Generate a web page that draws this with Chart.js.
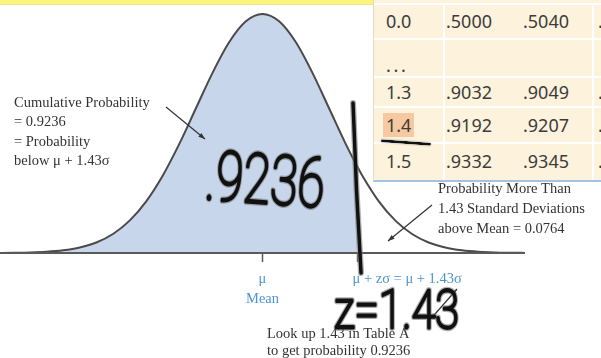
<!DOCTYPE html>
<html>
<head>
<meta charset="utf-8">
<script src="https://cdn.jsdelivr.net/npm/chart.js@4/dist/chart.umd.min.js"></script>
<style>
  html, body { margin: 0; padding: 0; background: #fff; }
  #wrap { position: relative; width: 601px; height: 358px; overflow: hidden; }
  #chart { position: absolute; left: 0; top: 0; }
  #band { position: absolute; left: 0; top: 0; width: 373px; height: 4px; background: #fcf57b; border-bottom: 1px solid #ece39e; }
  #tbl { position: absolute; left: 373px; top: 0; width: 228px; height: 182px; background: #fdf2dc;
         border-left: 1px solid #e2dac8; border-bottom: 2px solid #a3c3e4; box-sizing: border-box; overflow: hidden;
         font-family: "Noto Sans", "Liberation Sans", sans-serif; font-size: 18px; color: #3c3c3c; }
  .hline { position: absolute; left: 0; width: 228px; height: 2px; background: #fff; }
  .vline { position: absolute; top: 4px; width: 2px; height: 176px; background: #fff; }
  .cell { position: absolute; white-space: nowrap; }
  .hl { background: #f8c8a0; padding: 0 3px; margin-left: -3px; }
  #pen { position: absolute; left: 7px; top: 141px; width: 50px; height: 0; border-top: 3px solid #111;
         border-radius: 3px; transform: rotate(4deg); box-shadow: 0 0 1.5px #777; }
</style>
</head>
<body>
<div id="wrap">
  <canvas id="chart" width="601" height="358"></canvas>
  <div id="band"></div>
  <div id="tbl"></div>
</div>
<script>
// Standard normal density, read at these z positions
const zValues = [-4, -3.75, -3.5, -3.25, -3, -2.75, -2.5, -2.25, -2, -1.75, -1.5, -1.25, -1, -0.75, -0.5, -0.25,
                 0, 0.25, 0.5, 0.75, 1, 1.25, 1.43, 1.5, 1.75, 2, 2.25, 2.5, 2.75, 3, 3.25, 3.5, 3.75, 4];
const density = [0.0001, 0.0004, 0.0009, 0.0020, 0.0044, 0.0091, 0.0175, 0.0317, 0.0540, 0.0863, 0.1295, 0.1826, 0.2420, 0.3011, 0.3521, 0.3867,
                 0.3989, 0.3867, 0.3521, 0.3011, 0.2420, 0.1826, 0.1435, 0.1295, 0.0863, 0.0540, 0.0317, 0.0175, 0.0091, 0.0044, 0.0020, 0.0009, 0.0004, 0.0001];
const zCut = 1.43;           // shaded up to mean + 1.43 sd
const cumulative = '0.9236';
const upperTail = '0.0764';

// Excerpt of Table A
const tableRows = ['0.0', '. . .', '1.3', '1.4', '1.5'];
const tableCol1 = ['.5000', '', '.9032', '.9192', '.9332'];
const tableCol2 = ['.5040', '', '.9049', '.9207', '.9345'];
const tableCol3 = ['.5080', '', '.9066', '.9222', '.9357'];
const highlightRow = '1.4';

// Build the table excerpt
(function buildTable() {
  const tbl = document.getElementById('tbl');
  const tops = [4, 39, 77, 107, 143];
  const bottoms = [39, 77, 107, 143, 180];
  tops.forEach(t => { const d = document.createElement('div'); d.className = 'hline'; d.style.top = (t - 1) + 'px'; tbl.appendChild(d); });
  [69, 218].forEach(l => { const d = document.createElement('div'); d.className = 'vline'; d.style.left = l + 'px'; tbl.appendChild(d); });
  const lefts = [12, 72, 149, 224];
  tableRows.forEach((lab, i) => {
    const h = bottoms[i] - tops[i];
    const vals = [lab, tableCol1[i], tableCol2[i], tableCol3[i]];
    vals.forEach((v, c) => {
      if (!v) return;
      const s = document.createElement('div');
      s.className = 'cell';
      s.style.left = lefts[c] + 'px';
      s.style.top = tops[i] + 'px';
      s.style.height = h + 'px';
      s.style.lineHeight = h + 'px';
      if (lab === '. . .') { s.style.lineHeight = (h + 14) + 'px'; s.style.letterSpacing = '-1px'; }
      if (c === 0 && v === highlightRow) {
        const sp = document.createElement('span'); sp.className = 'hl'; sp.textContent = v; s.appendChild(sp);
      } else {
        s.textContent = v;
      }
      tbl.appendChild(s);
    });
  });
  const pen = document.createElement('div'); pen.id = 'pen'; tbl.appendChild(pen);
})();

const curvePts = zValues.map((z, i) => ({ x: z, y: density[i] }));
const shadePts = curvePts.filter(p => p.x <= zCut);

function arrow(ctx, x1, y1, x2, y2, size) {
  ctx.beginPath(); ctx.moveTo(x1, y1); ctx.lineTo(x2, y2); ctx.stroke();
  const a = Math.atan2(y2 - y1, x2 - x1);
  ctx.beginPath();
  ctx.moveTo(x2, y2);
  ctx.lineTo(x2 - size * Math.cos(a - 0.35), y2 - size * Math.sin(a - 0.35));
  ctx.lineTo(x2 - size * Math.cos(a + 0.35), y2 - size * Math.sin(a + 0.35));
  ctx.closePath(); ctx.fill();
}

// marker-style lettering: thin glyphs traced with a round pen
function penText(ctx, text, x, y, size, sx, rot) {
  ctx.save();
  ctx.translate(x, y);
  ctx.rotate(rot);
  ctx.scale(sx, 1);
  ctx.font = '100 ' + size + 'px Roboto, "DejaVu Sans", sans-serif';
  ctx.textAlign = 'left';
  ctx.textBaseline = 'alphabetic';
  ctx.lineJoin = 'round';
  ctx.lineCap = 'round';
  ctx.strokeStyle = 'rgba(120,120,120,0.6)';
  ctx.lineWidth = 5.5;
  ctx.strokeText(text, 0, 0);
  ctx.strokeStyle = '#111';
  ctx.lineWidth = 3;
  ctx.strokeText(text, 0, 0);
  ctx.fillStyle = '#111';
  ctx.fillText(text, 0, 0);
  ctx.restore();
}

const annotations = {
  id: 'annotations',
  afterDatasetsDraw(chart) {
    const ctx = chart.ctx;
    const xs = chart.scales.x, ys = chart.scales.y;
    const y0 = ys.getPixelForValue(0);
    const xm = xs.getPixelForValue(0);
    const xc = xs.getPixelForValue(zCut);
    ctx.save();

    // baseline and ticks
    ctx.strokeStyle = '#5a5a5a';
    ctx.lineWidth = 2;
    ctx.beginPath(); ctx.moveTo(xs.left, y0); ctx.lineTo(xs.right, y0); ctx.stroke();
    ctx.lineWidth = 1.5;
    ctx.beginPath(); ctx.moveTo(xm, y0); ctx.lineTo(xm, y0 + 9); ctx.moveTo(xc, y0); ctx.lineTo(xc, y0 + 9); ctx.stroke();

    // axis labels
    ctx.fillStyle = '#4e94d2';
    ctx.font = '14.5px "Liberation Serif", serif';
    ctx.textBaseline = 'alphabetic';
    ctx.textAlign = 'center';
    ctx.fillText('\u03bc', xm, 283);
    ctx.fillText('Mean', xm, 303);
    ctx.textAlign = 'left';
    ctx.fillText('\u03bc + z\u03c3 = \u03bc + ' + zCut + '\u03c3', xc - 5, 283);

    // explanatory notes
    ctx.fillStyle = '#333';
    ctx.font = '14.5px "Liberation Serif", serif';
    ctx.textBaseline = 'middle';
    const left = ['Cumulative Probability', '= ' + cumulative, '= Probability', 'below \u03bc + ' + zCut + '\u03c3'];
    left.forEach((t, i) => ctx.fillText(t, 14, 103 + i * 19.5));
    const right = ['Probability More Than', zCut + ' Standard Deviations', 'above Mean = ' + upperTail];
    right.forEach((t, i) => ctx.fillText(t, 438, 189 + i * 20));
    ['Look up ' + zCut + ' in Table A', 'to get probability ' + cumulative].forEach((t, i) => ctx.fillText(t, 267, 334 + i * 17));

    // pointers
    ctx.strokeStyle = '#333'; ctx.fillStyle = '#333'; ctx.lineWidth = 1.2;
    arrow(ctx, 166, 107, 205, 139, 7);
    arrow(ctx, 432, 205, 388, 241, 7);
    arrow(ctx, 428, 322, 457, 289, 7);

    // pen marks
    ctx.lineCap = 'round';
    ctx.strokeStyle = 'rgba(120,120,120,0.6)'; ctx.lineWidth = 6;
    ctx.beginPath(); ctx.moveTo(xc - 4.5, 103); ctx.lineTo(xc - 1, 190); ctx.lineTo(xc + 3.5, 273); ctx.stroke();
    ctx.strokeStyle = '#111'; ctx.lineWidth = 3.5;
    ctx.beginPath(); ctx.moveTo(xc - 4.5, 103); ctx.lineTo(xc - 1, 190); ctx.lineTo(xc + 3.5, 273); ctx.stroke();

    penText(ctx, '.' + cumulative.slice(2), 204, 199, 69, 0.72, 0.07);
    penText(ctx, 'z=' + zCut, 334, 328, 54, 0.8, 0);

    ctx.restore();
  }
};

new Chart(document.getElementById('chart'), {
  type: 'line',
  data: {
    datasets: [
      { data: curvePts, borderColor: '#4a4a4a', borderWidth: 2, fill: false, pointRadius: 0, cubicInterpolationMode: 'monotone' },
      { data: shadePts, borderWidth: 0, borderColor: 'rgba(0,0,0,0)', backgroundColor: '#c7d6ea', fill: 'origin', pointRadius: 0, cubicInterpolationMode: 'monotone' }
    ]
  },
  options: {
    responsive: false,
    animation: false,
    devicePixelRatio: 1,
    layout: { padding: { left: 0, right: 76, top: 0, bottom: 105 } },
    scales: {
      x: { type: 'linear', min: -3.95, max: 3.95, display: false },
      y: { min: 0, max: 0.4223, display: false }
    },
    plugins: { legend: { display: false }, tooltip: { enabled: false } }
  },
  plugins: [annotations]
});
</script>
</body>
</html>
